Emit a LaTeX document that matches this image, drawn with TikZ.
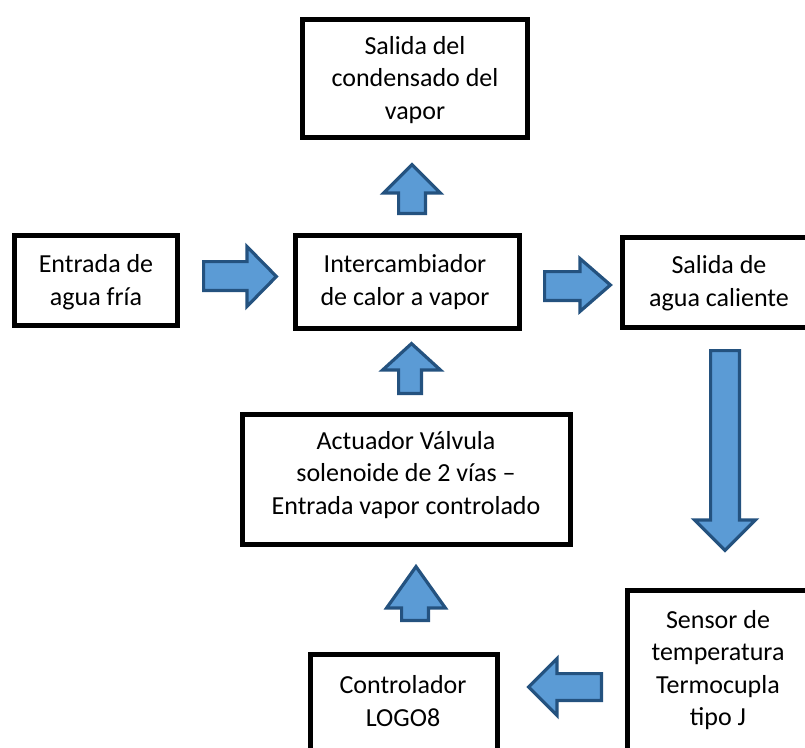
\documentclass[tikz,border=0pt]{standalone}
\usepackage{fontspec}
\setmainfont{Carlito}
\definecolor{afill}{HTML}{5B9BD5}
\definecolor{aline}{HTML}{24527F}
\begin{document}
\begin{tikzpicture}[x=1pt,y=-1pt,
  box/.style={draw=black,line width=5pt,inner sep=0pt,rectangle},
  lbl/.style={align=center,inner sep=0pt,font=\fontsize{26}{32.5}\selectfont,text=black},
  barrow/.style={fill=afill,draw=aline,line width=3.2pt,line join=miter}]
\useasboundingbox (0,0) rectangle (805,747);
\clip (0,0) rectangle (805,747);
% boxes
\node[box,minimum width=225pt,minimum height=118pt] (top) at (415,78.5) {};
\node[box,minimum width=163pt,minimum height=90pt] (entrada) at (96,280.5) {};
\node[box,minimum width=224pt,minimum height=93pt] (inter) at (407.5,282) {};
\node[box,minimum width=193pt,minimum height=90pt] (salida) at (719,282.5) {};
\node[box,minimum width=328pt,minimum height=130pt] (act) at (406.5,479.5) {};
\node[box,minimum width=187pt,minimum height=100.5pt] (ctrl) at (404,704.75) {};
\node[box,minimum width=181pt,minimum height=179.5pt] (sens) at (718,680.25) {};
% labels
\node[lbl] (topT) at (415,80) {Salida del\\condensado del\\vapor};
\node[lbl] (entradaT) at (96,282) {Entrada de\\agua fría};
\node[lbl] (interT) at (405,282) {Intercambiador\\de calor a vapor};
\node[lbl] (salidaT) at (719,283) {Salida de\\agua caliente};
\node[lbl] (actT) at (406,475) {Actuador Válvula\\solenoide de 2 vías –\\Entrada vapor controlado};
\node[lbl] (ctrlT) at (403,701) {Controlador\\LOGO8};
\node[lbl] (sensT) at (718,670) {Sensor de\\temperatura\\Termocupla\\tipo J};
% block arrows
\draw[barrow] (398.6,213.4) -- (398.6,193) -- (383.6,193) -- (412,164.6) -- (440.4,193) -- (425.4,193) -- (425.4,213.4) -- cycle;
\draw[barrow] (398.6,393.4) -- (398.6,370) -- (382.6,370) -- (411.5,343.6) -- (440.4,370) -- (421.4,370) -- (421.4,393.4) -- cycle;
\draw[barrow] (401.6,620.4) -- (401.6,608) -- (386.6,608) -- (416,566.6) -- (445.4,608) -- (428.4,608) -- (428.4,620.4) -- cycle;
\draw[barrow] (203.6,261.6) -- (247,261.6) -- (247,246.6) -- (276.4,276.5) -- (247,306.4) -- (247,290.4) -- (203.6,290.4) -- cycle;
\draw[barrow] (544.6,271.6) -- (580,271.6) -- (580,258.6) -- (610.4,285) -- (580,311.4) -- (580,300.4) -- (544.6,300.4) -- cycle;
\draw[barrow] (710.6,350.6) -- (739.4,350.6) -- (739.4,520) -- (755.4,520) -- (725,550.4) -- (694.6,520) -- (710.6,520) -- cycle;
\draw[barrow] (601.4,673.6) -- (557,673.6) -- (557,658.6) -- (528.6,687) -- (557,715.4) -- (557,700.4) -- (601.4,700.4) -- cycle;
\end{tikzpicture}
\end{document}
